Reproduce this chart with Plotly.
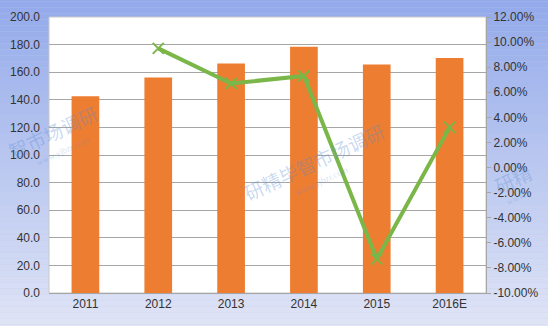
import plotly.graph_objects as go

categories = ["2011", "2012", "2013", "2014", "2015", "2016E"]
bar_values = [142.5, 156.2, 166.3, 178.4, 165.6, 170.3]
growth_pct = [None, 9.5, 6.7, 7.3, -7.3, 3.2]

left_ticks = [0, 20, 40, 60, 80, 100, 120, 140, 160, 180, 200]
right_ticks = [-10, -8, -6, -4, -2, 0, 2, 4, 6, 8, 10, 12]

fig = go.Figure()

fig.add_trace(go.Bar(
    x=categories, y=bar_values, marker=dict(color="#ed7d31", line=dict(width=0)),
    width=0.38, yaxis="y", showlegend=False, hoverinfo="skip"))

fig.add_trace(go.Scatter(
    x=categories, y=growth_pct, yaxis="y2", mode="lines+markers",
    line=dict(color="#7ab648", width=4),
    marker=dict(symbol="x-thin", size=11, line=dict(color="#7ab648", width=2), color="#7ab648"),
    showlegend=False, hoverinfo="skip"))

# gradient background strips
shapes = []
n = 60
top = (145, 168, 234)
bot = (228, 232, 246)
for i in range(n):
    t = i / (n - 1)
    c = tuple(int(round(top[k] + (bot[k] - top[k]) * t)) for k in range(3))
    shapes.append(dict(type="rect", xref="paper", yref="paper", layer="below",
                       x0=-0.2, x1=1.3, y0=1.1 - (i + 1) * (1.3 / n), y1=1.1 - i * (1.3 / n),
                       fillcolor="rgb(%d,%d,%d)" % c, line=dict(width=0)))
shapes.append(dict(type="rect", xref="paper", yref="paper", layer="below",
                   x0=0, x1=1, y0=0, y1=1, fillcolor="white",
                   line=dict(color="#c8c8c8", width=1)))

# watermark positions given as picture-pixel centres (plot area: x 46..487, y 10..293)
def px(xp, yp):
    return (xp - 46) / 441.0, (293 - yp) / 283.0

wm_items = [
    ("智市场调研", 50, 127, 19, "www.yjbzr.com", 60, 147),
    ("研精毕智市场调研", 313, 158, 19, "www.yjbzr.com", 321, 178),
    ("研精", 514, 176, 19, "www.", 518, 196),
]
wm = []
for (s, cx, cy, fs, u, ux, uy) in wm_items:
    x, y = px(cx, cy)
    wm.append(dict(x=x, y=y, xref="paper", yref="paper", text=s,
                   showarrow=False, xanchor="center", yanchor="middle",
                   textangle=-25, font=dict(size=fs, color="rgba(90,140,210,0.32)",
                                            family="Noto Sans CJK SC")))
    x2, y2 = px(ux, uy)
    wm.append(dict(x=x2, y=y2, xref="paper", yref="paper", text=u,
                   showarrow=False, xanchor="center", yanchor="middle", textangle=-25,
                   font=dict(size=9, color="rgba(90,140,210,0.28)", family="Liberation Serif")))

fig.update_layout(
    width=548, height=326,
    margin=dict(l=46, r=61, t=10, b=33),
    paper_bgcolor="#c0cbee", plot_bgcolor="white",
    shapes=shapes, annotations=wm,
    bargap=0.62,
    font=dict(family="Liberation Sans", size=12, color="#333333"),
    xaxis=dict(type="category", showgrid=False, showline=True, linecolor="#a6a6a6",
               linewidth=1, ticks="", tickfont=dict(size=12), range=[-0.5, 5.5]),
    yaxis=dict(range=[0, 200], tickvals=left_ticks,
               ticktext=["%.1f" % v for v in left_ticks], showgrid=True,
               gridcolor="#a6a6a6", gridwidth=1, zeroline=False, showline=False,
               ticks="", ticklabelstandoff=8),
    yaxis2=dict(range=[-10, 12], tickvals=right_ticks,
                ticktext=["%.2f%%" % v for v in right_ticks], overlaying="y", side="right",
                showgrid=False, zeroline=False, showline=True, linecolor="#a6a6a6",
                ticks="outside", ticklen=4, tickcolor="#a6a6a6"),
)

fig.write_html("out.html")
